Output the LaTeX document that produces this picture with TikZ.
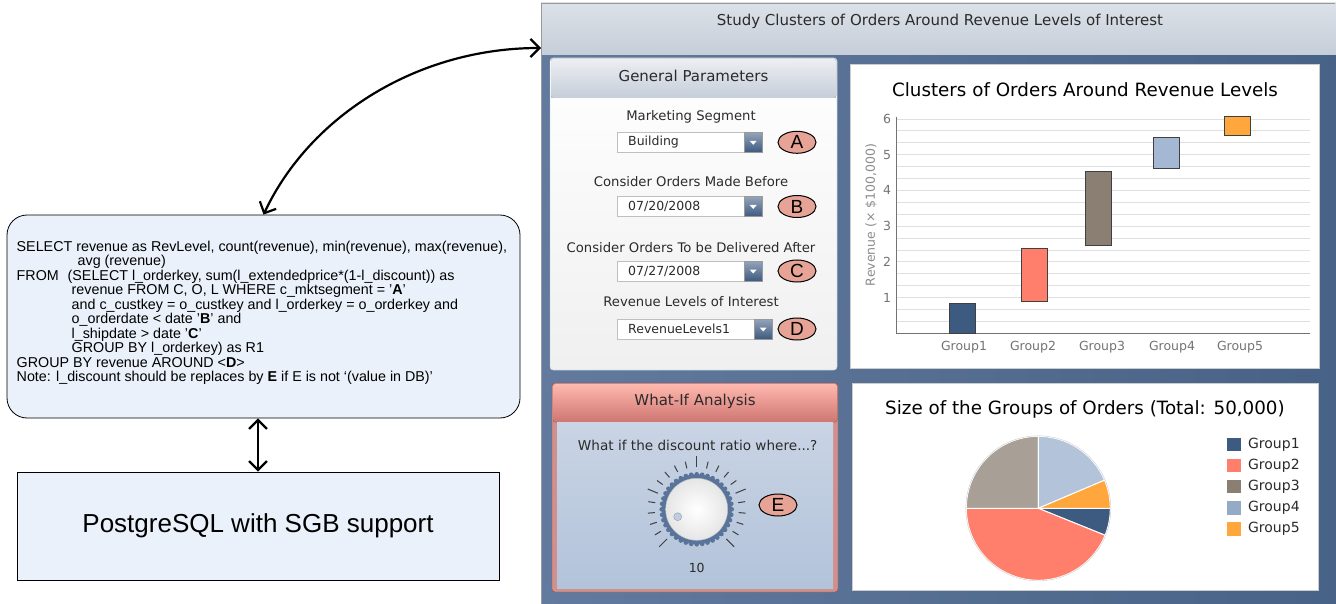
\documentclass[tikz,border=0pt]{standalone}
\usepackage{fontspec}
\setmainfont{Liberation Sans}
\newfontfamily\uifont{DejaVu Sans}
\usepackage{tikz}
\usetikzlibrary{arrows.meta, shapes.geometric}

\definecolor{boxfill}{HTML}{EAF1FA}
\definecolor{uitext}{HTML}{2B2B2B}
\definecolor{pinkmark}{HTML}{E8A397}
\definecolor{gone}{HTML}{3D5A80}
\definecolor{gtwo}{HTML}{FF7F6C}
\definecolor{gthree}{HTML}{8B7F73}
\definecolor{gfour}{HTML}{A5B8D3}
\definecolor{gfive}{HTML}{FFA73C}
\definecolor{ringc}{HTML}{5A7398}

\tikzset{
  link/.style={line width=2.2pt, {Straight Barb[length=9pt,width=18pt]}-{Straight Barb[length=9pt,width=18pt]}},
  ui/.style={font=\uifont\fontsize{#1}{#1}\selectfont, text=uitext, inner sep=0pt},
  letter/.style={ellipse, draw, line width=1pt, fill=pinkmark, minimum width=38pt, minimum height=22pt, inner sep=0pt, font=\fontsize{19}{19}\selectfont},
  dropbox/.style={draw=black!25, fill=white, minimum height=20pt, inner sep=0pt, anchor=west},
  dropbtn/.style={draw=black!40, top color=gone!55, bottom color=gone, minimum width=18pt, minimum height=20pt, inner sep=0pt, anchor=east},
  bar/.style={draw=black!75, line width=1pt},
  grid/.style={black!12, line width=0.8pt},
  panel/.style={draw=black!20, fill=white, inner sep=0pt}
}

\begin{document}
\begin{tikzpicture}[x=1pt, y=-1pt]
\useasboundingbox (0,0) rectangle (1336,604);

% query and database
\node[draw, rounded corners=20pt, fill=boxfill, line width=0.8pt, minimum width=513pt, minimum height=203pt] (sql) at (263.5,316.5) {};
\node[anchor=base west, align=left, inner sep=0pt, font=\fontsize{14.3}{14.5}\selectfont] (query) at (16.5,381.7) {%
SELECT revenue as RevLevel, count(revenue), min(revenue), max(revenue),\\
\hspace*{61pt}avg (revenue)\\
\makebox[51pt][l]{FROM}(SELECT l\_orderkey, sum(l\_extendedprice*(1-l\_discount)) as\\
\hspace*{55pt}revenue FROM C, O, L WHERE c\_mktsegment = '\textbf{A}'\\
\hspace*{55pt}and c\_custkey = o\_custkey and l\_orderkey = o\_orderkey and\\
\hspace*{55pt}o\_orderdate < date '\textbf{B}' and\\
\hspace*{55pt}l\_shipdate > date '\textbf{C}'\\
\hspace*{55pt}GROUP BY l\_orderkey) as R1\\
GROUP BY revenue AROUND <\textbf{D}>\\
Note: l\_discount should be replaces by \textbf{E} if E is not `(value in DB)'};
\node[draw, fill=boxfill, line width=0.8pt, minimum width=482pt, minimum height=108pt, font=\fontsize{26}{26}\selectfont] (pg) at (258,526) {PostgreSQL with SGB support};
\draw[link] (pg.north) -- (pg.north |- sql.south);

% dashboard
\fill[left color=ringc!95, right color=gone!95] (541,55) rectangle (1336,604);
\fill[top color=gone!18, bottom color=gone!30] (541,3) rectangle (1336,55);
\draw[black!40] (1335,3) -- (541,3) -- (541,604);
\coordinate (entry) at (541,48);
\node[ui=15] (title) at (940,21) {Study Clusters of Orders Around Revenue Levels of Interest};
\draw[link] (sql.north) .. controls +(47,-100) and +(-122,0) .. (entry);

% general parameters
\node[panel, draw=gone!40, rounded corners=3pt, minimum width=287pt, minimum height=312pt, top color=white, bottom color=black!6] (gp) at (693.5,214) {};
\fill[top color=gone!10, bottom color=gone!30, rounded corners=2pt] (551,59) rectangle (836,98);
\node[ui=15] (gptitle) at (693.5,76) {General Parameters};
\foreach \p/\ly/\lab/\dy/\val/\w in {A/117.3/Marketing Segment/142.3/Building/145,
    B/181.7/Consider Orders Made Before/206.5/{07/20/2008}/145,
    C/247.3/Consider Orders To be Delivered After/271/{07/27/2008}/145,
    D/301.7/Revenue Levels of Interest/329/RevenueLevels1/155} {
  \node[ui=13.2] (l\p) at (691,\ly) {\lab};
  \node[dropbox, minimum width=\w] (dd\p) at (617,\dy) {};
  \node[ui=12.5, anchor=west] (v\p) at ([xshift=11pt]dd\p.west) {\val};
  \node[dropbtn] (b\p) at (dd\p.east) {};
  \fill[white] (b\p.center) ++(-3.5,-1.5) -- ++(7,0) -- ++(-3.5,4) -- cycle;
  \node[letter] (\p) at (797,\dy) {\p};
}

% what-if analysis
\node[draw=gtwo!60!black, fill=gtwo!70!gone!80, rounded corners=3pt, minimum width=286pt, minimum height=209pt] (wi) at (695,487.5) {};
\fill[top color=gtwo!55!white, bottom color=gtwo!75!gone, rounded corners=2pt] (553,384) rectangle (837,422);
\fill[top color=gfour!60, bottom color=gfour!85] (557,422) rectangle (833,588);
\node[ui=15] (wititle) at (695,401) {What-If Analysis};
\node[ui=13.6] (question) at (697.7,445) {What if the discount ratio where...?};
\coordinate (knob) at (696.7,509.3);
\foreach \i in {0,...,20} {
  \pgfmathsetmacro\ang{-225+13.5*\i}
  \pgfmathsetmacro\len{mod(\i,5)==0 ? 11 : 7}
  \draw[black!75, line width=1pt] (knob) ++(\ang:42) -- ++(\ang:\len);
}
\fill[ringc] (knob) circle[radius=35];
\foreach \k in {0,9,...,351} \fill[ringc] (knob) ++(\k:35) circle[radius=2.3];
\shade[inner color=white, outer color=black!10] (knob) circle[radius=31];
\draw[gone!40] (knob) circle[radius=31];
\filldraw[fill=gfour!70, draw=gone!60] (677.7,516.7) circle[radius=4];
\node[ui=12.5] (knobval) at (696.7,567.7) {10};
\node[letter] (E) at (778,505) {E};

% clusters chart
\node[panel, minimum width=469pt, minimum height=304pt] (chart) at (1084.5,216) {};
\node[ui=18.3, text=black] (charttitle) at (1085,90) {Clusters of Orders Around Revenue Levels};
\foreach \k in {1,...,18} {
  \pgfmathsetmacro\gy{333.3-\k*35.72/3}
  \draw[grid] (896,\gy) -- (1310,\gy);
}
\draw[black!55, line width=1pt] (896,117) -- (896,333.3) -- (1310,333.3);
\foreach \v in {1,...,6} \node[ui=12.5, text=black!55] (t\v) at (887,{333.3-35.72*\v}) {\v};
\node[ui=12.5, text=black!45, rotate=90] (ylab) at (871,215) {Revenue (× \$100,000)};
\foreach \g/\xl/\yb/\yt/\col in {1/949/333.3/303.3/gone, 2/1021.7/301.7/249/gtwo,
    3/1085.7/245.7/171.7/gthree, 4/1153.3/168.7/137.3/gfour, 5/1224.3/135.3/116.7/gfive}
  \draw[bar, fill=\col] (\xl,\yb) rectangle ({\xl+26},\yt);
\foreach \g/\x in {1/964,2/1033,3/1102,4/1172,5/1240}
  \node[ui=12.5, text=black!55] (gl\g) at (\x,347) {Group\g};

% group sizes
\node[panel, minimum width=466pt, minimum height=207pt] (pie) at (1085,486.5) {};
\node[ui=18.3, text=black] (pietitle) at (1085,409) {Size of the Groups of Orders (Total: 50,000)};
\coordinate (pc) at (1038.3,508.3);
\foreach \a/\b/\col in {0/22/gone, 22/180/gtwo, 180/270/gthree!75!white, 270/337/gfour!85!white, 337/360/gfive}
  \filldraw[fill=\col, draw=white, line width=1pt] (pc) -- ++(\a:72) arc[start angle=\a, end angle=\b, radius=72] -- cycle;
\draw[black!20] (pc) circle[radius=72.5];
\foreach \g/\col in {1/gone, 2/gtwo, 3/gthree, 4/gfour!85!gone, 5/gfive} {
  \node[fill=\col, minimum size=13.4pt, inner sep=0pt] (sq\g) at (1234,{444.3+21.2*(\g-1)}) {};
  \node[ui=14, anchor=west] (lg\g) at ([xshift=7pt]sq\g.east) {Group\g};
}

\end{tikzpicture}
\end{document}
